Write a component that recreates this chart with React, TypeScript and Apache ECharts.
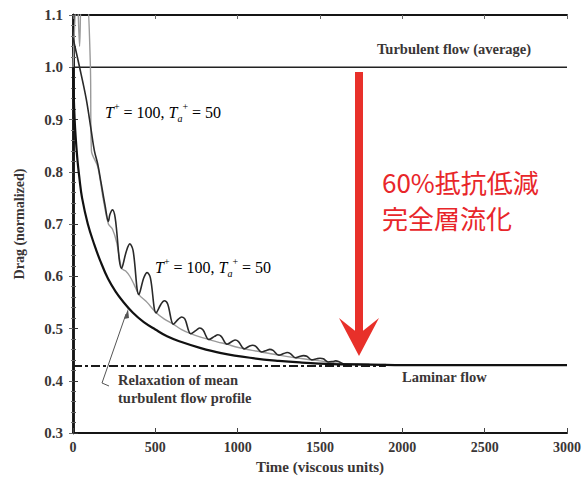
import React, { useEffect, useRef } from "react";
import * as echarts from "echarts";

// Tick values
const xTickValues = [0, 500, 1000, 1500, 2000, 2500, 3000];
const yTickValues = [0.3, 0.4, 0.5, 0.6, 0.7, 0.8, 0.9, 1.0, 1.1];

// Reference levels
const turbulentLevel = 1.0;
const laminarLevel = 0.428;

// Relaxation of mean turbulent flow profile (thick black smooth curve)
const relaxTime = [0, 10, 25, 40, 55, 90, 130, 165, 213, 260, 300, 364, 430, 500, 571, 650, 771, 900, 1075, 1250, 1378, 1579, 1800, 2100, 2500, 3000];
const relaxDrag = [1.0, 0.9, 0.83, 0.785, 0.75, 0.7, 0.66, 0.63, 0.595, 0.57, 0.553, 0.53, 0.512, 0.498, 0.485, 0.475, 0.463, 0.453, 0.444, 0.438, 0.435, 0.432, 0.431, 0.43, 0.43, 0.43];

// Oscillating black curve (T+ = 100, Ta+ = 50)
const pulseTime = [0, 40, 80, 110, 130, 150, 170, 195, 215, 224, 240, 256, 295, 325, 345, 365, 400, 430, 450, 470, 505, 535, 555, 575, 610, 640, 660, 680, 715, 750, 770, 790, 825, 860, 880, 900, 935, 965, 985, 1005, 1040, 1070, 1090, 1110, 1145, 1175, 1195, 1215, 1250, 1280, 1300, 1320, 1350, 1380, 1400, 1420, 1450, 1480, 1500, 1520, 1550, 1578, 1595, 1612, 1650, 1800];
const pulseDrag = [1.056, 1.0, 0.94, 0.88, 0.84, 0.815, 0.78, 0.735, 0.705, 0.718, 0.727, 0.712, 0.615, 0.649, 0.662, 0.649, 0.565, 0.597, 0.607, 0.597, 0.53, 0.547, 0.553, 0.547, 0.508, 0.518, 0.522, 0.518, 0.49, 0.497, 0.501, 0.497, 0.479, 0.485, 0.488, 0.485, 0.47, 0.475, 0.478, 0.475, 0.461, 0.466, 0.468, 0.466, 0.455, 0.458, 0.46, 0.458, 0.449, 0.452, 0.454, 0.452, 0.444, 0.447, 0.448, 0.447, 0.44, 0.442, 0.443, 0.442, 0.436, 0.437, 0.438, 0.437, 0.432, 0.431];

// Grey curve (T+ = 100, Ta+ = 50, upper label)
const greyTime = [0, 25, 40, 55, 80, 105, 112, 150, 185, 215, 240, 265, 295, 320, 345, 370, 400, 450, 505, 555, 610, 660, 715, 770, 825, 880, 935, 985, 1040, 1145, 1250, 1350, 1450, 1550, 1650, 1900];
const greyDrag = [1.0, 1.15, 1.04, 1.15, 1.15, 1.01, 0.84, 0.81, 0.745, 0.7, 0.69, 0.665, 0.615, 0.61, 0.6, 0.585, 0.565, 0.55, 0.53, 0.518, 0.508, 0.498, 0.49, 0.484, 0.479, 0.474, 0.47, 0.465, 0.461, 0.455, 0.449, 0.444, 0.44, 0.436, 0.432, 0.431];

const laminarDashEnd = 1900;

const zip = (a: number[], b: number[]) => a.map((v, i) => [v, b[i]]);

const SERIF = "'Liberation Serif', 'DejaVu Serif', serif";
const TXT = "#3a3636";

export default function App() {
  const ref = useRef<HTMLDivElement>(null);

  useEffect(() => {
    if (!ref.current) return;
    const chart = echarts.init(ref.current, undefined, { renderer: "svg" });

    const labelStyle = {
      color: TXT,
      fontFamily: SERIF,
      fontWeight: "bold" as const,
      fontSize: 15,
    };

    const tickRich = {
      it: { fontFamily: SERIF, fontStyle: "italic", fontSize: 16, color: TXT, lineHeight: 22 },
      n: { fontFamily: SERIF, fontSize: 16, color: TXT, lineHeight: 22 },
      sup: { fontFamily: SERIF, fontSize: 10, color: TXT, lineHeight: 10, verticalAlign: "top" },
      sub: { fontFamily: SERIF, fontStyle: "italic", fontSize: 10, color: TXT, lineHeight: 10, verticalAlign: "bottom" },
    };
    const tLabel = "{it|T}{sup|+}{n| = 100, }{it|T}{sub|a}{sup|+}{n| = 50}";

    const option: any = {
      animation: false,
      backgroundColor: "#ffffff",
      grid: { left: 73, right: 17, top: 15, bottom: 46, containLabel: false },
      xAxis: [
        {
          type: "value",
          min: xTickValues[0],
          max: xTickValues[xTickValues.length - 1],
          interval: 500,
          position: "bottom",
          name: "Time (viscous units)",
          nameLocation: "middle",
          nameGap: 26,
          nameTextStyle: { ...labelStyle, fontSize: 15 },
          axisLine: { show: true, lineStyle: { color: "#151515", width: 2 } },
          axisTick: { show: true, inside: true, length: 5, lineStyle: { color: "#444" } },
          axisLabel: { ...labelStyle, fontSize: 14, margin: 7, formatter: (v: number) => String(v) },
          splitLine: { show: false },
        },
        {
          type: "value",
          min: xTickValues[0],
          max: xTickValues[xTickValues.length - 1],
          interval: 500,
          position: "top",
          axisLine: { show: true, lineStyle: { color: "#151515", width: 2 } },
          axisTick: { show: true, inside: true, length: 4, lineStyle: { color: "#666" } },
          axisLabel: { show: false },
          splitLine: { show: false },
        },
      ],
      yAxis: [
        {
          type: "value",
          min: yTickValues[0],
          max: yTickValues[yTickValues.length - 1],
          interval: 0.1,
          position: "left",
          name: "Drag (normalized)",
          nameLocation: "middle",
          nameGap: 47,
          nameTextStyle: { ...labelStyle, fontSize: 14 },
          axisLine: { show: true, lineStyle: { color: "#151515", width: 2.5 } },
          axisTick: { show: true, inside: true, length: 5, lineStyle: { color: "#333" } },
          minorTick: { show: true, splitNumber: 5, length: 3, lineStyle: { color: "#555" } },
          axisLabel: { ...labelStyle, margin: 10, formatter: (v: number) => v.toFixed(1) },
          splitLine: { show: false },
        },
        {
          type: "value",
          min: yTickValues[0],
          max: yTickValues[yTickValues.length - 1],
          interval: 0.1,
          position: "right",
          axisLine: { show: true, lineStyle: { color: "#151515", width: 2.5 } },
          axisTick: { show: true, inside: true, length: 4, lineStyle: { color: "#666" } },
          minorTick: { show: true, splitNumber: 5, length: 2, lineStyle: { color: "#777" } },
          axisLabel: { show: false },
          splitLine: { show: false },
        },
      ],
      series: [
        {
          type: "line",
          data: [[xTickValues[0], turbulentLevel], [xTickValues[xTickValues.length - 1], turbulentLevel]],
          symbol: "none",
          lineStyle: { color: "#222", width: 1.6 },
          silent: true,
        },
        {
          type: "line",
          data: [[0, laminarLevel], [laminarDashEnd, laminarLevel]],
          symbol: "none",
          lineStyle: { color: "#1a1a1a", width: 2, type: [9, 3, 3, 3] },
          silent: true,
        },
        {
          type: "line",
          data: zip(greyTime, greyDrag),
          symbol: "none",
          smooth: 0.3,
          clip: true,
          lineStyle: { color: "#9a9a9a", width: 1.4 },
          silent: true,
        },
        {
          type: "line",
          data: zip(pulseTime, pulseDrag),
          symbol: "none",
          smooth: 0.35,
          clip: true,
          lineStyle: { color: "#2a2a2a", width: 1.6 },
          silent: true,
        },
        {
          type: "line",
          data: zip(relaxTime, relaxDrag),
          symbol: "none",
          smooth: 0.4,
          clip: true,
          lineStyle: { color: "#111", width: 2.2 },
          silent: true,
        },
      ],
      graphic: [
        {
          type: "text",
          left: 377,
          top: 41,
          style: { text: "Turbulent flow (average)", font: `bold 14.5px ${SERIF}`, fill: TXT },
        },
        {
          type: "text",
          left: 402,
          top: 369,
          style: { text: "Laminar flow", font: `bold 14.5px ${SERIF}`, fill: TXT },
        },
        {
          type: "text",
          left: 118,
          top: 371,
          style: {
            text: "Relaxation of mean\nturbulent flow profile",
            font: `bold 14.5px ${SERIF}`,
            lineHeight: 18,
            fill: TXT,
          },
        },
        {
          type: "text",
          left: 105,
          top: 101,
          style: { text: tLabel, rich: tickRich },
        },
        {
          type: "text",
          left: 155,
          top: 256,
          style: { text: tLabel, rich: tickRich },
        },
        {
          type: "polyline",
          shape: { points: [[126, 314], [102, 383], [109, 386]] },
          style: { stroke: "#555", lineWidth: 1, fill: null },
        },
        {
          type: "polygon",
          shape: { points: [[128, 309], [124, 319], [129, 318]] },
          style: { fill: "#555" },
        },
        {
          type: "rect",
          shape: { x: 355, y: 72, width: 8, height: 262 },
          style: { fill: "#e8302a" },
        },
        {
          type: "polygon",
          shape: { points: [[339, 318], [359, 334], [379, 318], [359, 356]] },
          style: { fill: "#e8302a" },
        },
        {
          type: "text",
          left: 382,
          top: 168,
          style: {
            text: "60%抵抗低減",
            font: "26px 'Noto Sans CJK JP', sans-serif",
            fill: "#e8262a",
          },
        },
        {
          type: "text",
          left: 382,
          top: 204,
          style: {
            text: "完全層流化",
            font: "26px 'Noto Sans CJK JP', sans-serif",
            fill: "#e8262a",
          },
        },
      ],
    };

    chart.setOption(option);
    return () => chart.dispose();
  }, []);

  return <div ref={ref} style={{ position: "fixed", left: 0, top: 0, width: 584, height: 479 }} />;
}
